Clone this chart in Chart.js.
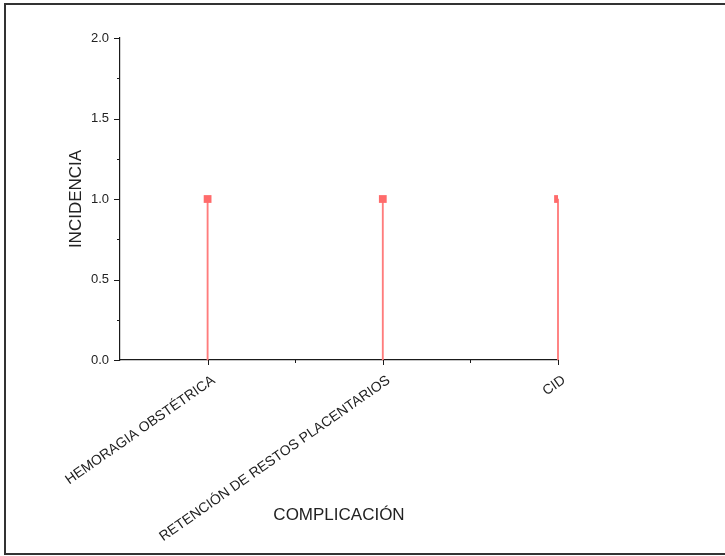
<!DOCTYPE html>
<html>
<head>
<meta charset="utf-8">
<script src="https://cdn.jsdelivr.net/npm/chart.js@4"></script>
<style>
  html, body { margin: 0; padding: 0; background: #fff; }
  #wrap { width: 725px; height: 556px; position: relative; }
</style>
</head>
<body>
<div id="wrap"><canvas id="chart"></canvas></div>
<script>
var categories = ['HEMORAGIA OBSTÉTRICA', 'RETENCIÓN DE RESTOS PLACENTARIOS', 'CID'];
var incidencia = [1, 1, 1];
var yTicks = [0, 0.5, 1.0, 1.5, 2.0];
var yTitle = 'INCIDENCIA';
var xTitle = 'COMPLICACIÓN';

var points = categories.map(function (c, i) {
  return { x: i + 1, y: incidencia[i] };
});

var axisColor = '#1a1a1a';
var textColor = '#222';
var fontFamily = 'Arial, "Liberation Sans", sans-serif';

// frame around the whole figure + minor/major tick marks
var decorPlugin = {
  id: 'decor',
  beforeDraw: function (chart) {
    var ctx = chart.ctx;
    ctx.save();
    ctx.strokeStyle = '#333';
    ctx.lineWidth = 2;
    ctx.strokeRect(5, 4, 740, 550);
    ctx.restore();
  },
  afterDraw: function (chart) {
    var ctx = chart.ctx;
    var xs = chart.scales.x, ys = chart.scales.y;
    var area = chart.chartArea;
    ctx.save();
    ctx.strokeStyle = axisColor;
    ctx.lineWidth = 1;
    ctx.beginPath();
    var v, px, len;
    for (v = 0; v <= 2.0001; v += 0.25) {
      px = Math.round(ys.getPixelForValue(v)) + 0.5;
      len = (Math.abs(v * 2 - Math.round(v * 2)) < 1e-6) ? 6 : 3;
      ctx.moveTo(area.left - len, px);
      ctx.lineTo(area.left, px);
    }
    for (v = 1; v <= 3.0001; v += 0.5) {
      px = Math.round(xs.getPixelForValue(v)) + 0.5;
      len = (Math.abs(v - Math.round(v)) < 1e-6) ? 5 : 3;
      ctx.moveTo(px, area.bottom);
      ctx.lineTo(px, area.bottom + len);
    }
    ctx.stroke();
    ctx.restore();
  }
};

var chart = new Chart(document.getElementById('chart'), {
  type: 'scatter',
  data: {
    datasets: [
      {
        type: 'bar',
        data: points,
        backgroundColor: '#ff7c7c',
        borderWidth: 0,
        barThickness: 1.2,
        clip: false,
        order: 2
      },
      {
        type: 'scatter',
        data: points,
        pointStyle: 'rect',
        pointRadius: 5.5,
        pointHoverRadius: 5.5,
        backgroundColor: '#ff6b6b',
        borderColor: '#ff6b6b',
        borderWidth: 0,
        clip: 0,
        order: 1
      }
    ]
  },
  options: {
    responsive: true,
    maintainAspectRatio: false,
    devicePixelRatio: 1,
    animation: false,
    layout: { padding: { top: 38, right: 167, bottom: 0, left: 0 } },
    plugins: {
      legend: { display: false },
      tooltip: { enabled: false }
    },
    scales: {
      x: {
        type: 'linear',
        min: 0.5,
        max: 3,
        offset: false,
        grid: { display: false, drawTicks: false, offset: false },
        border: { display: true, color: axisColor, width: 1.2 },
        ticks: {
          stepSize: 0.5,
          autoSkip: false,
          minRotation: 35,
          maxRotation: 35,
          padding: 12,
          labelOffset: 6,
          color: textColor,
          font: { family: fontFamily, size: 14 },
          callback: function (value) {
            var i = Math.round(value);
            if (Math.abs(value - i) > 1e-6 || i < 1 || i > categories.length) return '';
            return categories[i - 1];
          }
        },
        title: {
          display: true,
          text: xTitle,
          color: textColor,
          font: { family: fontFamily, size: 17 },
          padding: { top: 0, bottom: 30 }
        },
        afterFit: function (scale) { scale.height = 196; }
      },
      y: {
        type: 'linear',
        min: 0,
        max: 2,
        grid: { display: false, drawTicks: false },
        border: { display: true, color: axisColor, width: 1.2 },
        afterBuildTicks: function (scale) {
          scale.ticks = yTicks.map(function (v) { return { value: v }; });
        },
        ticks: {
          padding: 11,
          color: textColor,
          font: { family: fontFamily, size: 13 },
          callback: function (value) { return value.toFixed(1); }
        },
        title: {
          display: true,
          text: yTitle,
          color: textColor,
          font: { family: fontFamily, size: 17 },
          padding: { top: 66, bottom: 0 }
        },
        afterFit: function (scale) { scale.width = 120; }
      }
    }
  },
  plugins: [decorPlugin]
});
</script>
</body>
</html>
